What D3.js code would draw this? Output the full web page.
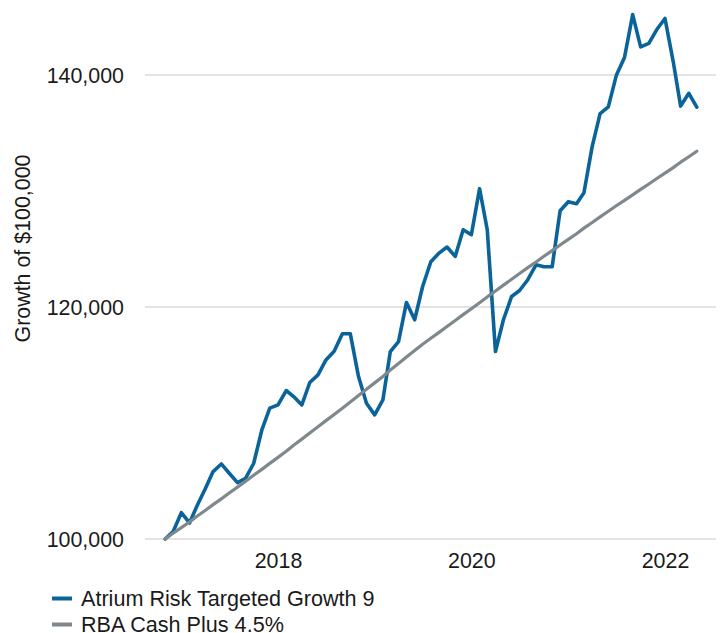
<!DOCTYPE html>
<html>
<head>
<meta charset="utf-8">
<script src="https://cdn.jsdelivr.net/npm/d3@7"></script>
<style>
  html, body { margin: 0; padding: 0; background: #fff; }
  svg { display: block; font-family: "Liberation Sans", Arial, sans-serif; }
</style>
</head>
<body>
<svg id="chart" width="722" height="633"></svg>
<script>
// Month-end observations (labelled by month)
const months = [
  "2016-10","2016-11","2016-12",
  "2017-01","2017-02","2017-03","2017-04","2017-05","2017-06","2017-07","2017-08","2017-09","2017-10","2017-11","2017-12",
  "2018-01","2018-02","2018-03","2018-04","2018-05","2018-06","2018-07","2018-08","2018-09","2018-10","2018-11","2018-12",
  "2019-01","2019-02","2019-03","2019-04","2019-05","2019-06","2019-07","2019-08","2019-09","2019-10","2019-11","2019-12",
  "2020-01","2020-02","2020-03","2020-04","2020-05","2020-06","2020-07","2020-08","2020-09","2020-10","2020-11","2020-12",
  "2021-01","2021-02","2021-03","2021-04","2021-05","2021-06","2021-07","2021-08","2021-09","2021-10","2021-11","2021-12",
  "2022-01","2022-02","2022-03","2022-04"
];

const atrium = [
  100000, 100630, 102270, 101380, 102850, 104310, 105810, 106470, 105670, 104860, 105240, 106510,
  109400, 111280, 111560, 112800, 112280, 111560, 113490, 114150, 115440, 116180, 117690, 117690,
  114000, 111710, 110700, 111990, 116160, 117020, 120390, 118900, 121770, 123900, 124650, 125170,
  124360, 126660, 126230, 130200, 126660, 116160, 118900, 120910, 121420, 122350, 123640, 123470,
  123470, 128300, 129080, 128900, 129850, 133820, 136670, 137250, 139950, 141500, 145210, 142420,
  142730, 143920, 144870, 141160, 137320, 138420, 137230
];

const rbaCashPlus = [
  100000, 100490, 100980, 101470, 101965, 102460, 102960, 103460, 103965, 104470, 104980, 105490,
  106005, 106520, 107040, 107560, 108085, 108610, 109140, 109670, 110205, 110740, 111280, 111820,
  112365, 112910, 113460, 114010, 114565, 115120, 115680, 116240, 116790, 117300, 117810, 118320,
  118830, 119340, 119850, 120360, 120870, 121380, 121885, 122390, 122890, 123390, 123880, 124370,
  124860, 125345, 125830, 126315, 126800, 127285, 127770, 128255, 128725, 129195, 129665, 130135,
  130605, 131075, 131545, 132015, 132485, 132955, 133425
];

const yTicks = [100000, 120000, 140000];
const xTickYears = [2018, 2020, 2022];
const seriesNames = ["Atrium Risk Targeted Growth 9", "RBA Cash Plus 4.5%"];
const seriesColors = ["#0a6499", "#7f888d"];
const yTitle = "Growth of $100,000";

const parseMonth = d3.timeParse("%Y-%m");
// month-end value plotted at the end of the month
const dates = months.map(m => d3.timeMonth.offset(parseMonth(m), 1));

const svg = d3.select("#chart");
const FS = 21.4;

const plotLeft = 145, plotRight = 716;
const x = d3.scaleTime()
  .domain([new Date(2018, 0, 1), new Date(2022, 0, 1)])
  .range([278, 665]);
const y = d3.scaleLinear()
  .domain([100000, 140000])
  .range([539, 75]);

// gridlines
svg.append("g").selectAll("line")
  .data(yTicks)
  .join("line")
  .attr("x1", plotLeft).attr("x2", plotRight)
  .attr("y1", d => y(d)).attr("y2", d => y(d))
  .attr("stroke", "#e3e3e3")
  .attr("stroke-width", 2);

// y axis
const fmt = d3.format(",");
const yAxis = d3.axisLeft(y).tickValues(yTicks).tickFormat(fmt).tickSize(0).tickPadding(0);
const gy = svg.append("g").attr("transform", "translate(124,0)").call(yAxis);
gy.select(".domain").remove();
gy.selectAll("text")
  .attr("font-size", FS)
  .attr("font-family", "Liberation Sans, Arial, sans-serif")
  .attr("fill", "#1a1a1a")
  .attr("dy", "0.35em")
  .attr("x", 0);

// x axis
const xAxis = d3.axisBottom(x)
  .tickValues(xTickYears.map(yr => new Date(yr, 0, 1)))
  .tickFormat(d3.timeFormat("%Y"))
  .tickSize(0).tickPadding(0);
const gx = svg.append("g").attr("transform", "translate(0,553)").call(xAxis);
gx.select(".domain").remove();
gx.selectAll("text")
  .attr("font-size", FS)
  .attr("font-family", "Liberation Sans, Arial, sans-serif")
  .attr("fill", "#1a1a1a")
  .attr("dy", "0.72em")
  .attr("y", 0);

// y title
svg.append("text")
  .attr("transform", "translate(30,248.5) rotate(-90)")
  .attr("text-anchor", "middle")
  .attr("font-size", FS)
  .attr("fill", "#1a1a1a")
  .text(yTitle);

const line = d3.line()
  .x((d, i) => x(dates[i]))
  .y(d => y(d))
  .curve(d3.curveLinear);

svg.append("path")
  .datum(atrium)
  .attr("d", line)
  .attr("fill", "none")
  .attr("stroke", seriesColors[0])
  .attr("stroke-width", 3.6)
  .attr("stroke-linejoin", "round")
  .attr("stroke-linecap", "round");

svg.append("path")
  .datum(rbaCashPlus)
  .attr("d", line)
  .attr("fill", "none")
  .attr("stroke", seriesColors[1])
  .attr("stroke-width", 3.2)
  .attr("stroke-linejoin", "round")
  .attr("stroke-linecap", "round");

// legend
const legend = svg.append("g");
const rows = [598.5, 624.5];
seriesNames.forEach((name, i) => {
  legend.append("line")
    .attr("x1", 52).attr("x2", 72)
    .attr("y1", rows[i]).attr("y2", rows[i])
    .attr("stroke", seriesColors[i])
    .attr("stroke-width", 4);
  legend.append("text")
    .attr("x", 81).attr("y", rows[i])
    .attr("dy", "0.35em")
    .attr("font-size", 21.6)
    .attr("fill", "#1a1a1a")
    .text(name);
});
</script>
</body>
</html>
